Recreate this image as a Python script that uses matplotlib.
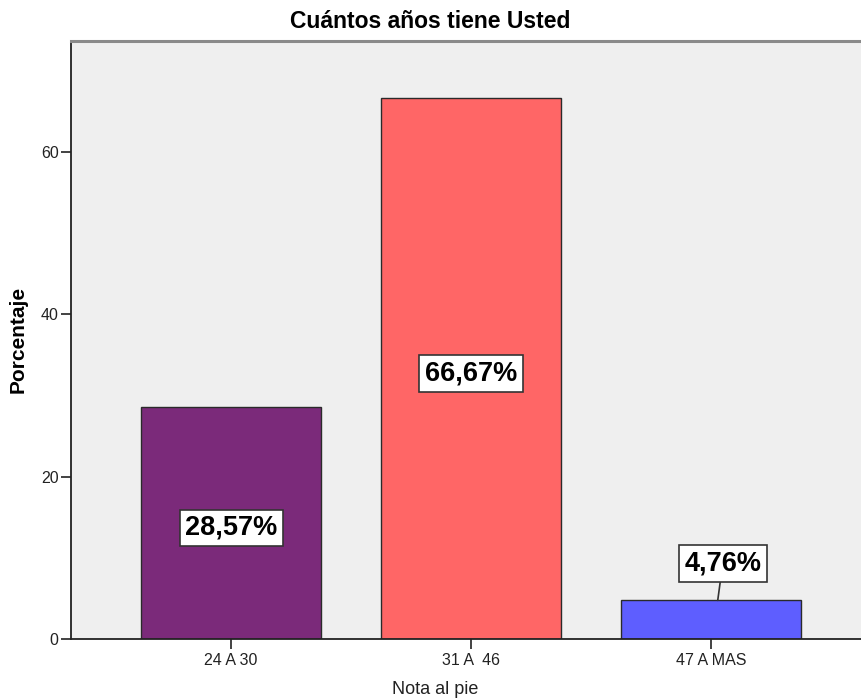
import matplotlib
matplotlib.use("Agg")
import matplotlib.pyplot as plt

plt.rcParams['font.family'] = ['Liberation Sans', 'DejaVu Sans']

categories = ["24 A 30", "31 A  46", "47 A MAS"]
values = [28.57, 66.67, 4.76]
labels = ["28,57%", "66,67%", "4,76%"]
colors = ["#7B2A7A", "#FF6666", "#5E5EFF"]

fig = plt.figure(figsize=(8.61, 7.0), dpi=100)
ax = fig.add_axes([71/861, 1 - 639/700, 1 - 71/861, (639 - 41)/700])
ax.set_facecolor("#EFEFEF")

x = list(range(len(categories)))
ax.bar(x, values, width=0.75, color=colors, edgecolor="#2a2a2a", linewidth=1.0, zorder=2)

ax.set_xlim(-0.667, 2.625)
ax.set_ylim(0, 73.7)
ax.set_yticks([0, 20, 40, 60])
ax.set_xticks(x)
ax.set_xticklabels(categories)
ax.tick_params(axis='both', labelsize=11.5, colors="#222222", length=7, width=1.2, direction='out')
ax.tick_params(axis='x', pad=3)
ax.tick_params(axis='y', pad=2)

for s in ['left', 'bottom']:
    ax.spines[s].set_color("#222222")
    ax.spines[s].set_linewidth(1.3)
ax.spines['top'].set_color("#8a8a8a")
ax.spines['top'].set_linewidth(2.2)
ax.spines['right'].set_visible(False)

box = dict(boxstyle="square,pad=0.2", facecolor="white", edgecolor="#333333", linewidth=1.2)
for i, (v, lab) in enumerate(zip(values, labels)):
    if v > 10:
        ax.text(i, v / 2 - 0.6, lab, ha='center', va='center', fontsize=19.5,
                fontweight='bold', bbox=box, zorder=4)
    else:
        ax.annotate(lab, xy=(i + 0.028, v), xytext=(5, 37), textcoords='offset pixels',
                    ha='center', va='center', fontsize=19.5, fontweight='bold', bbox=box,
                    arrowprops=dict(arrowstyle='-', color="#333333", linewidth=1.2,
                                    shrinkA=0, shrinkB=0), zorder=4)

fig.text(0.5, 1 - 22/700, "Cuántos años tiene Usted", ha='center', va='center',
         fontsize=16.5, fontweight='bold')
fig.text(435/861, 1 - 689/700, "Nota al pie", ha='center', va='center', fontsize=13, color="#222222")
fig.text(18/861, 1 - 339/700, "Porcentaje", ha='center', va='center', rotation=90,
         fontsize=15, fontweight='bold')

fig.savefig("out.png", dpi=100)
